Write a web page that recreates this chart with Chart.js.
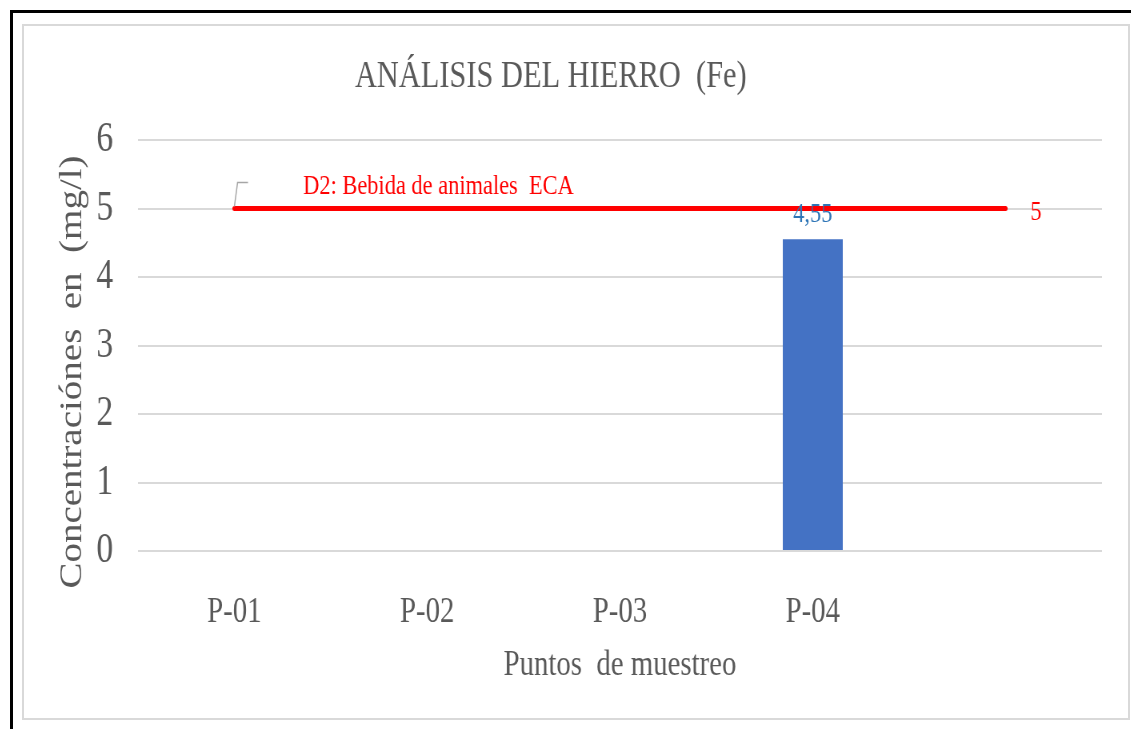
<!DOCTYPE html>
<html>
<head>
<meta charset="utf-8">
<script src="https://cdn.jsdelivr.net/npm/chart.js@4/dist/chart.umd.min.js"></script>
<style>
  html, body { margin: 0; padding: 0; background: #fff; width: 1131px; height: 729px; overflow: hidden; }
  #frame { position: absolute; left: 10px; top: 10px; width: 1121px; height: 719px;
           border-top: 3px solid #000; border-left: 3px solid #000; box-sizing: border-box; }
  #box   { position: absolute; left: 22px; top: 24px; width: 1108px; height: 696px;
           border: 2px solid #d9d9d9; box-sizing: border-box; }
  /* the picture is squeezed sideways, so draw wide and compress */
  #wrap  { position: absolute; left: 22px; top: 24px; width: 1384px; height: 695px;
           transform: scaleX(0.8); transform-origin: 0 0; }
</style>
</head>
<body>
<div id="frame"></div>
<div id="box"></div>
<div id="wrap"><canvas id="c"></canvas></div>
<script>
'use strict';

// ── Data ──────────────────────────────────────────────
const categories = ['P-01', 'P-02', 'P-03', 'P-04', ''];
const feValues   = [null, null, null, 4.55, null];
const ecaValues  = [5, 5, 5, 5, 5];
const ecaLabel   = 'D2: Bebida de animales  ECA';
const yMin = 0, yMax = 6, yStep = 1;

const chartTitle = 'ANÁLISIS DEL HIERRO  (Fe)';
const yTitle     = 'Concentraciónes  en  (mg/l)';
const xTitle     = 'Puntos  de muestreo';

const SERIF = '"Liberation Serif", "Times New Roman", serif';
const GREY  = '#595959';

// ── Labels, callout and titles ────────────────────────
const labelsPlugin = {
  id: 'labels',
  afterDatasetsDraw(chart) {
    const ctx = chart.ctx;
    ctx.save();

    // bar values
    ctx.font = `28px ${SERIF}`;
    ctx.textAlign = 'center';
    ctx.textBaseline = 'alphabetic';
    ctx.fillStyle = '#2E75B6';
    chart.getDatasetMeta(0).data.forEach((el, i) => {
      const v = feValues[i];
      if (v == null) return;
      ctx.fillText(String(v).replace('.', ','), el.x, el.y - 17);
    });

    // limit line: value at the end, callout at the start
    const pts   = chart.getDatasetMeta(1).data;
    const last  = pts[pts.length - 1];
    const first = pts[0];
    ctx.fillStyle = '#FF0000';
    ctx.textBaseline = 'middle';
    ctx.fillText(String(ecaValues[ecaValues.length - 1]), last.x + 38, last.y + 4);

    ctx.strokeStyle = '#A6A6A6';
    ctx.lineWidth = 1.5;
    ctx.beginPath();
    ctx.moveTo(first.x, first.y - 2);
    ctx.lineTo(first.x + 4, first.y - 26);
    ctx.lineTo(first.x + 17, first.y - 26);
    ctx.stroke();

    ctx.textAlign = 'left';
    ctx.textBaseline = 'alphabetic';
    ctx.fillText(ecaLabel, first.x + 86, first.y - 15);
    ctx.restore();
  },
  afterDraw(chart) {
    const ctx = chart.ctx;
    ctx.save();
    ctx.fillStyle = GREY;
    ctx.textAlign = 'center';
    ctx.textBaseline = 'middle';
    ctx.font = `38px ${SERIF}`;
    ctx.fillText(chartTitle, 661, 53);

    ctx.translate(64, 348);
    ctx.rotate(-Math.PI / 2);
    ctx.font = `39px ${SERIF}`;
    ctx.fillText(yTitle, 0, 0);
    ctx.restore();
  },
};

// ── Chart ─────────────────────────────────────────────
new Chart(document.getElementById('c'), {
  type: 'bar',
  data: {
    labels: categories,
    datasets: [
      {
        type: 'bar',
        label: 'Fe',
        data: feValues,
        backgroundColor: '#4472C4',
        barPercentage: 0.311,
        categoryPercentage: 1,
        order: 2,
      },
      {
        type: 'line',
        label: 'ECA D2',
        data: ecaValues,
        borderColor: '#FF0000',
        borderWidth: 5,
        borderCapStyle: 'round',
        pointRadius: 0,
        pointHoverRadius: 0,
        fill: false,
        tension: 0,
        order: 1,
      },
    ],
  },
  options: {
    responsive: true,
    maintainAspectRatio: false,
    animation: false,
    layout: { padding: { top: 116, right: 34, left: 0, bottom: 0 } },
    plugins: {
      legend:  { display: false },
      title:   { display: false },
      tooltip: { enabled: false },
    },
    scales: {
      x: {
        grid:   { display: false },
        border: { display: false },
        ticks:  { color: GREY, font: { family: SERIF, size: 36 }, padding: 32, maxRotation: 0, autoSkip: false },
        title:  { display: true, text: xTitle, color: GREY,
                  font: { family: SERIF, size: 36 }, padding: { top: 0, bottom: 32 } },
        afterFit(s) { s.height = 168; },
      },
      y: {
        min: yMin,
        max: yMax,
        ticks:  { stepSize: yStep, color: GREY, font: { family: SERIF, size: 42 }, padding: 31 },
        grid:   { color: '#d9d9d9', lineWidth: 2, drawTicks: false },
        border: { display: false },
        afterFit(s) { s.width = 145; },
      },
    },
  },
  plugins: [labelsPlugin],
});
</script>
</body>
</html>
